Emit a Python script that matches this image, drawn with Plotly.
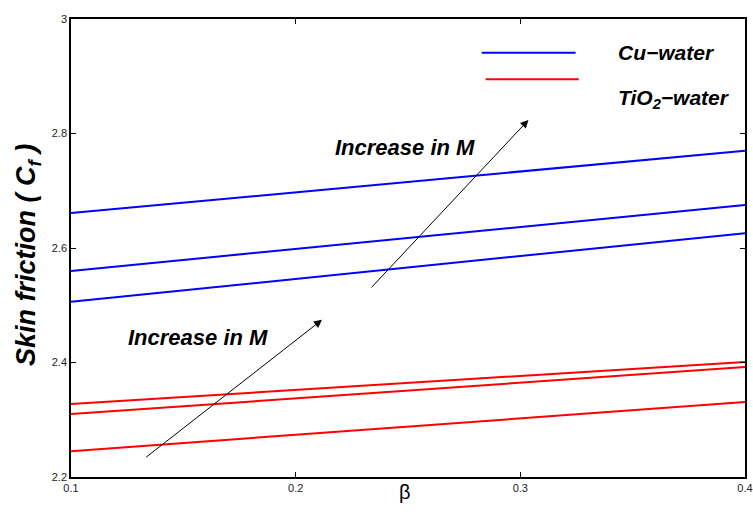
import plotly.graph_objects as go

beta = [0.1, 0.4]
cu_1 = [2.661, 2.770]
cu_2 = [2.560, 2.675]
cu_3 = [2.506, 2.626]
tio2_1 = [2.3275, 2.401]
tio2_2 = [2.310, 2.392]
tio2_3 = [2.245, 2.331]

x_ticks = [0.1, 0.2, 0.3, 0.4]
x_labels = ["0.1", "0.2", "0.3", "0.4"]
y_ticks = [2.2, 2.4, 2.6, 2.8, 3.0]
y_labels = ["2.2", "2.4", "2.6", "2.8", "3"]

fig = go.Figure()
for ys in [cu_1, cu_2, cu_3]:
    fig.add_trace(go.Scatter(x=beta, y=ys, mode="lines",
                             line=dict(color="#0000FF", width=2), showlegend=False))
for ys in [tio2_1, tio2_2, tio2_3]:
    fig.add_trace(go.Scatter(x=beta, y=ys, mode="lines",
                             line=dict(color="#FF0000", width=2), showlegend=False))

tick_font = dict(family="Liberation Sans, Arial, sans-serif", size=11, color="#222")
bi = "Liberation Sans, Arial, sans-serif"

fig.update_xaxes(range=[0.1, 0.4], tickvals=x_ticks, ticktext=x_labels,
                 ticks="inside", ticklen=5, tickcolor="#000", mirror="ticks",
                 showline=True, linecolor="#000", linewidth=1.5, showgrid=False,
                 zeroline=False, tickfont=tick_font, automargin=False,
                 ticklabeloverflow="allow")
fig.update_yaxes(range=[2.2, 3.0], tickvals=y_ticks, ticktext=y_labels,
                 ticks="inside", ticklen=5, tickcolor="#000", mirror="ticks",
                 showline=True, linecolor="#000", linewidth=1.5, showgrid=False,
                 zeroline=False, tickfont=tick_font, automargin=False,
                 ticklabeloverflow="allow")

W, H = 753, 516
L, R, T, B = 71, 8, 19, 39

def paper_x(px):
    return (px - L) / (W - L - R)

def paper_y(py):
    return (H - B - py) / (H - T - B)

# axis titles
fig.add_annotation(x=paper_x(405), y=paper_y(505), xref="paper", yref="paper", showarrow=False,
                   text="β", font=dict(family=bi, size=20, color="#000"))
fig.add_annotation(x=paper_x(9), y=paper_y(255), xref="paper", yref="paper", showarrow=False,
                   textangle=-90, text="<b><i>Skin friction ( C<sub>f</sub> )</i></b>",
                   font=dict(family=bi, size=27, color="#000"))

# arrows
fig.add_annotation(x=0.2117, y=2.4745, ax=0.1328, ay=2.2326, xref="x", yref="y",
                   axref="x", ayref="y", showarrow=True, arrowhead=2, arrowsize=1.6,
                   arrowwidth=1, arrowcolor="#000", text="")
fig.add_annotation(x=0.3036, y=2.8236, ax=0.2331, ay=2.5284, xref="x", yref="y",
                   axref="x", ayref="y", showarrow=True, arrowhead=2, arrowsize=1.6,
                   arrowwidth=1, arrowcolor="#000", text="")

fig.add_annotation(x=0.1245, y=2.4445, xref="x", yref="y", xanchor="left", showarrow=False,
                   text="<b><i>Increase in M</i></b>", font=dict(family=bi, size=22, color="#000"))
fig.add_annotation(x=0.2166, y=2.7764, xref="x", yref="y", xanchor="left", showarrow=False,
                   text="<b><i>Increase in M</i></b>", font=dict(family=bi, size=22, color="#000"))

# legend drawn manually
fig.add_shape(type="line", x0=0.2828, x1=0.3246, y0=2.9412, y1=2.9412, xref="x", yref="y",
              line=dict(color="#0000FF", width=2))
fig.add_shape(type="line", x0=0.2846, x1=0.3260, y0=2.8947, y1=2.8947, xref="x", yref="y",
              line=dict(color="#FF0000", width=2))
fig.add_annotation(x=0.3424, y=2.9418, xref="x", yref="y", xanchor="left", showarrow=False,
                   text="<b><i>Cu−water</i></b>", font=dict(family=bi, size=21, color="#000"))
fig.add_annotation(x=0.3424, y=2.8597, xref="x", yref="y", xanchor="left", showarrow=False,
                   text="<b><i>TiO<sub>2</sub>−water</i></b>", font=dict(family=bi, size=21, color="#000"))

fig.update_layout(width=W, height=H, margin=dict(l=L, r=R, t=T, b=B),
                  plot_bgcolor="white", paper_bgcolor="white", showlegend=False)

fig.write_html("out.html", config={"displayModeBar": False},
               post_script="document.body.style.margin='0';document.body.style.overflow='hidden';")
